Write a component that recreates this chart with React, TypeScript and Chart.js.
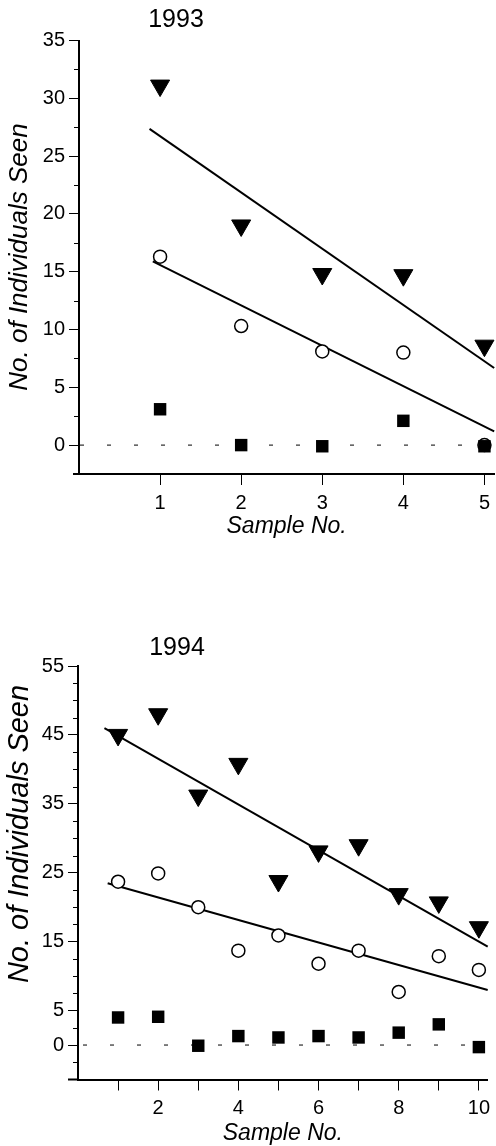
import React, { useEffect, useRef } from "react";
import { Chart, registerables } from "chart.js";

Chart.register(...registerables);

// ---------- 1993 data ----------
const samples1993 = [1, 2, 3, 4, 5];
const triangles1993 = [31.1, 19.0, 14.8, 14.7, 8.6];
const circles1993 = [16.3, 10.3, 8.1, 8.0, 0];
const squares1993 = [3.1, 0, -0.1, 2.1, -0.1];
const triFitX1993 = [0.87, 5.12];
const triFitY1993 = [27.35, 6.67];
const circFitX1993 = [0.91, 5.12];
const circFitY1993 = [15.9, 1.19];
const yMajor1993 = [0, 5, 10, 15, 20, 25, 30, 35];
const yMinor1993 = [2.5, 7.5, 12.5, 17.5, 22.5, 27.5, 32.5];
const xTicks1993 = [1, 2, 3, 4, 5];
const xLabels1993 = [1, 2, 3, 4, 5];

// ---------- 1994 data ----------
const samples1994 = [1, 2, 3, 4, 5, 6, 7, 8, 9, 10];
const triangles1994 = [45.0, 48.0, 36.2, 40.8, 23.8, 28.1, 29.0, 21.9, 20.7, 17.1];
const circles1994 = [23.7, 24.9, 20.0, 13.7, 15.9, 11.8, 13.7, 7.7, 12.9, 10.9];
const squares1994 = [4.0, 4.1, -0.1, 1.3, 1.1, 1.3, 1.1, 1.8, 3.0, -0.3];
const triFitX1994 = [0.66, 10.22];
const triFitY1994 = [45.97, 14.27];
const circFitX1994 = [0.74, 10.22];
const circFitY1994 = [23.47, 7.98];
const yMajor1994 = [0, 5, 15, 25, 35, 45, 55];
const yMinor1994 = [
  -2.5, 2.5, 7.5, 10, 12.5, 17.5, 20, 22.5, 27.5, 30, 32.5, 37.5, 40, 42.5, 47.5, 50, 52.5,
];
const xTicks1994 = [1, 2, 3, 4, 5, 6, 7, 8, 9, 10];
const xLabels1994 = [2, 4, 6, 8, 10];

const FONT = "'Liberation Sans', Arial, Helvetica, sans-serif";

type Panel = {
  year: string;
  samples: number[];
  tri: number[];
  circ: number[];
  sq: number[];
  triFitX: number[];
  triFitY: number[];
  circFitX: number[];
  circFitY: number[];
  yMajor: number[];
  yMinor: number[];
  xTicks: number[];
  xLabels: number[];
  xMax: number;
  yMin: number;
  yMax: number;
  height: number;
  padTop: number;
  yWidth: number;
  xHeight: number;
  titleX: number;
  titleBase: number;
  xTitleBase: number;
  yTitleBase: number;
  yTitleCenter: number;
  yTitleSize: number;
  xExt: number;
  dashOffset: number;
};

function buildChart(canvas: HTMLCanvasElement, p: Panel) {
  const pts = (xs: number[], ys: number[]) => ys.map((y, i) => ({ x: xs[i], y }));

  const decor = {
    id: "decor",
    beforeDatasetsDraw(chart: any) {
      const { ctx, chartArea, scales } = chart;
      const y0 = scales.y.getPixelForValue(0);
      ctx.save();
      ctx.strokeStyle = "#000";
      ctx.lineWidth = 1;
      ctx.setLineDash([4, 23]);
      ctx.lineDashOffset = p.dashOffset;
      ctx.beginPath();
      ctx.moveTo(chartArea.left, y0);
      ctx.lineTo(chartArea.right, y0);
      ctx.stroke();
      ctx.restore();
    },
    afterDraw(chart: any) {
      const { ctx, chartArea, scales } = chart;
      const left = chartArea.left;
      ctx.save();
      ctx.strokeStyle = "#000";
      ctx.lineWidth = 1;
      ctx.beginPath();
      p.yMinor.forEach((v) => {
        const py = Math.round(scales.y.getPixelForValue(v)) + 0.5;
        ctx.moveTo(left - 5, py);
        ctx.lineTo(left, py);
      });
      ctx.stroke();
      // x axis extends slightly left of the y axis
      ctx.lineWidth = 2;
      ctx.beginPath();
      ctx.moveTo(left - p.xExt, chartArea.bottom);
      ctx.lineTo(left, chartArea.bottom);
      ctx.stroke();

      ctx.fillStyle = "#000";
      // year title
      ctx.font = `25px ${FONT}`;
      ctx.textAlign = "center";
      ctx.textBaseline = "alphabetic";
      ctx.fillText(p.year, p.titleX, p.titleBase);
      // x title
      ctx.font = `italic 23px ${FONT}`;
      ctx.fillText("Sample No.", (chartArea.left + chartArea.right) / 2, p.xTitleBase);
      // y title
      ctx.translate(p.yTitleBase, p.yTitleCenter);
      ctx.rotate(-Math.PI / 2);
      ctx.font = `italic ${p.yTitleSize}px ${FONT}`;
      ctx.fillText("No. of Individuals Seen", 0, 0);
      ctx.restore();
    },
  };

  return new Chart(canvas, {
    type: "scatter",
    data: {
      datasets: [
        {
          label: "squares",
          data: pts(p.samples, p.sq),
          pointStyle: "rect",
          pointRadius: 8.8,
          pointBackgroundColor: "#000",
          pointBorderColor: "#000",
          pointBorderWidth: 0,
          order: 0,
          clip: false,
        } as any,
        {
          label: "circles",
          data: pts(p.samples, p.circ),
          pointStyle: "circle",
          pointRadius: 6.5,
          pointBackgroundColor: "#fff",
          pointBorderColor: "#000",
          pointBorderWidth: 1.5,
          order: 1,
          clip: false,
        },
        {
          label: "triangles",
          data: pts(p.samples, p.tri),
          pointStyle: "triangle",
          pointRotation: 180,
          pointRadius: 11,
          pointBackgroundColor: "#000",
          pointBorderColor: "#000",
          pointBorderWidth: 1,
          order: 2,
          clip: false,
        },
        {
          type: "line",
          label: "triFit",
          data: pts(p.triFitX, p.triFitY),
          showLine: true,
          borderColor: "#000",
          borderWidth: 2,
          pointRadius: 0,
          fill: false,
          order: 3,
          clip: false,
        },
        {
          type: "line",
          label: "circFit",
          data: pts(p.circFitX, p.circFitY),
          showLine: true,
          borderColor: "#000",
          borderWidth: 2,
          pointRadius: 0,
          fill: false,
          order: 3,
          clip: false,
        },
      ] as any,
    },
    options: {
      animation: false,
      responsive: false,
      maintainAspectRatio: false,
      devicePixelRatio: 1,
      layout: { padding: { top: p.padTop, left: 0, right: 0, bottom: 0 }, autoPadding: false } as any,
      plugins: { legend: { display: false }, tooltip: { enabled: false }, title: { display: false } },
      scales: {
        x: {
          type: "linear",
          min: 0,
          max: p.xMax,
          afterBuildTicks: (s: any) => {
            s.ticks = p.xTicks.map((v) => ({ value: v }));
          },
          afterFit: (s: any) => {
            s.height = p.xHeight;
          },
          ticks: {
            autoSkip: false,
            maxRotation: 0,
            padding: 6,
            color: "#000",
            font: { family: FONT, size: 20 },
            callback: (v: any) => (p.xLabels.includes(Number(v)) ? String(v) : ""),
          },
          grid: { drawOnChartArea: false, drawTicks: true, tickLength: 11, tickColor: "#000", tickWidth: 1 },
          border: { display: true, color: "#000", width: 2 },
        },
        y: {
          type: "linear",
          min: p.yMin,
          max: p.yMax,
          afterBuildTicks: (s: any) => {
            s.ticks = p.yMajor.map((v) => ({ value: v }));
          },
          afterFit: (s: any) => {
            s.width = p.yWidth;
          },
          ticks: {
            autoSkip: false,
            padding: 4,
            color: "#000",
            font: { family: FONT, size: 20 },
            callback: (v: any) => String(v),
          },
          grid: { drawOnChartArea: false, drawTicks: true, tickLength: 10, tickColor: "#000", tickWidth: 1 },
          border: { display: true, color: "#000", width: 2 },
        },
      },
    } as any,
    plugins: [decor],
  });
}

const panel1993: Panel = {
  year: "1993",
  samples: samples1993,
  tri: triangles1993,
  circ: circles1993,
  sq: squares1993,
  triFitX: triFitX1993,
  triFitY: triFitY1993,
  circFitX: circFitX1993,
  circFitY: circFitY1993,
  yMajor: yMajor1993,
  yMinor: yMinor1993,
  xTicks: xTicks1993,
  xLabels: xLabels1993,
  xMax: 5.12,
  yMin: -2.5,
  yMax: 35,
  height: 560,
  padTop: 40.5,
  yWidth: 79,
  xHeight: 86,
  titleX: 176,
  titleBase: 26.7,
  xTitleBase: 533.3,
  yTitleBase: 26.7,
  yTitleCenter: 257,
  yTitleSize: 26,
  xExt: 6,
  dashOffset: -1,
};

const panel1994: Panel = {
  year: "1994",
  samples: samples1994,
  tri: triangles1994,
  circ: circles1994,
  sq: squares1994,
  triFitX: triFitX1994,
  triFitY: triFitY1994,
  circFitX: circFitX1994,
  circFitY: circFitY1994,
  yMajor: yMajor1994,
  yMinor: yMinor1994,
  xTicks: xTicks1994,
  xLabels: xLabels1994,
  xMax: 10.22,
  yMin: -5,
  yMax: 55,
  height: 586,
  padTop: 106,
  yWidth: 78,
  xHeight: 66.5,
  titleX: 177,
  titleBase: 95,
  xTitleBase: 580,
  yTitleBase: 28.3,
  yTitleCenter: 274,
  yTitleSize: 29,
  xExt: 10,
  dashOffset: -5,
};

function PanelChart({ panel, top }: { panel: Panel; top: number }) {
  const ref = useRef<HTMLCanvasElement | null>(null);
  useEffect(() => {
    if (!ref.current) return;
    const chart = buildChart(ref.current, panel);
    return () => chart.destroy();
  }, [panel]);
  return (
    <canvas
      ref={ref}
      width={496}
      height={panel.height}
      style={{ position: "absolute", left: 0, top, width: 496, height: panel.height, display: "block" }}
    />
  );
}

export default function App() {
  return (
    <div
      style={{
        position: "absolute",
        left: 0,
        top: 0,
        width: 496,
        height: 1146,
        background: "#fff",
        overflow: "hidden",
      }}
    >
      <PanelChart panel={panel1993} top={0} />
      <PanelChart panel={panel1994} top={560} />
    </div>
  );
}
